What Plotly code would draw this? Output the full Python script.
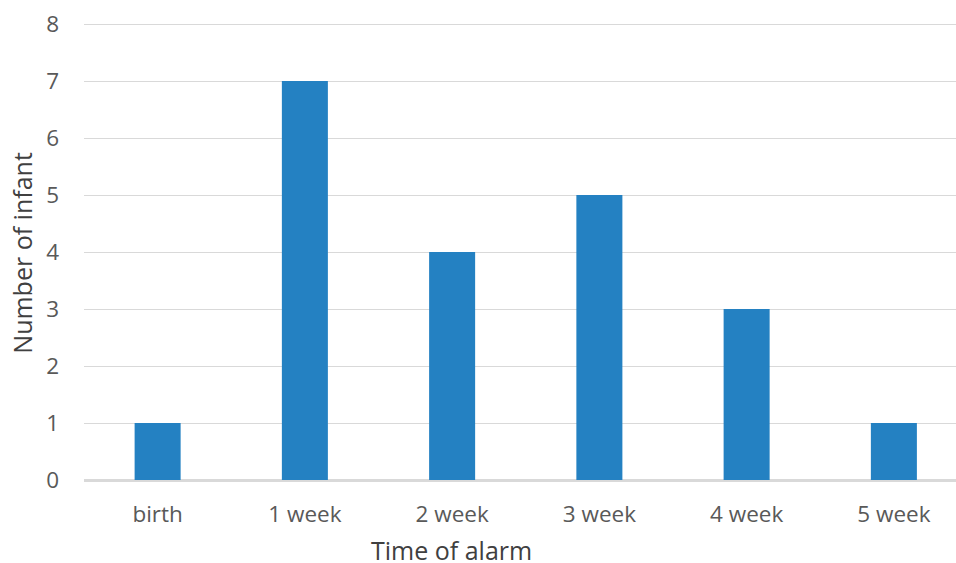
import plotly.graph_objects as go

categories = ["birth", "1 week", "2 week", "3 week", "4 week", "5 week"]
values = [1, 7, 4, 5, 3, 1]
y_ticks = [0, 1, 2, 3, 4, 5, 6, 7, 8]

W, H = 956, 563
L, T = 84.3, 23
AXIS_Y = 480
B = H - AXIS_Y
step = 147.2
right_val = -0.5 + (W - L) / step

fig = go.Figure(go.Bar(x=categories, y=values, marker=dict(color="#2481C2", line=dict(width=0)),
                       width=46 / step))

font = "Open Sans"
fig.update_layout(
    width=W, height=H,
    margin=dict(l=L, r=0, t=T, b=B, pad=0),
    paper_bgcolor="white", plot_bgcolor="white",
    showlegend=False,
    font=dict(family=font, color="#595959", size=22.5),
    xaxis=dict(type="category", range=[-0.5, right_val], showgrid=False,
               showline=False, ticks="", ticklabelstandoff=18,
               tickfont=dict(size=22.5, color="#595959")),
    yaxis=dict(range=[0, 8.02], tickvals=y_ticks, showgrid=True, gridcolor="#d9d9d9", gridwidth=1.3,
               zeroline=True, zerolinecolor="#d9d9d9", zerolinewidth=2.5,
               showline=False, ticks="", ticklabelstandoff=24,
               tickfont=dict(size=22.5, color="#595959")),
    annotations=[
        dict(text="Time of alarm", xref="paper", yref="paper",
             x=(452 - L) / (W - L), y=-(550 - AXIS_Y) / (AXIS_Y - T), xanchor="center", yanchor="middle",
             showarrow=False, font=dict(size=25, color="#404040", family=font)),
        dict(text="Number of infant", xref="paper", yref="paper",
             x=-(L - 22) / (W - L), y=(AXIS_Y - 253) / (AXIS_Y - T), xanchor="center", yanchor="middle",
             textangle=-90, showarrow=False, font=dict(size=25, color="#404040", family=font)),
    ],
)

fig.write_html(
    "out.html",
    config={"displayModeBar": False},
    post_script="document.body.style.margin='0';document.body.style.overflow='hidden';"
                "document.documentElement.style.overflow='hidden';",
)
